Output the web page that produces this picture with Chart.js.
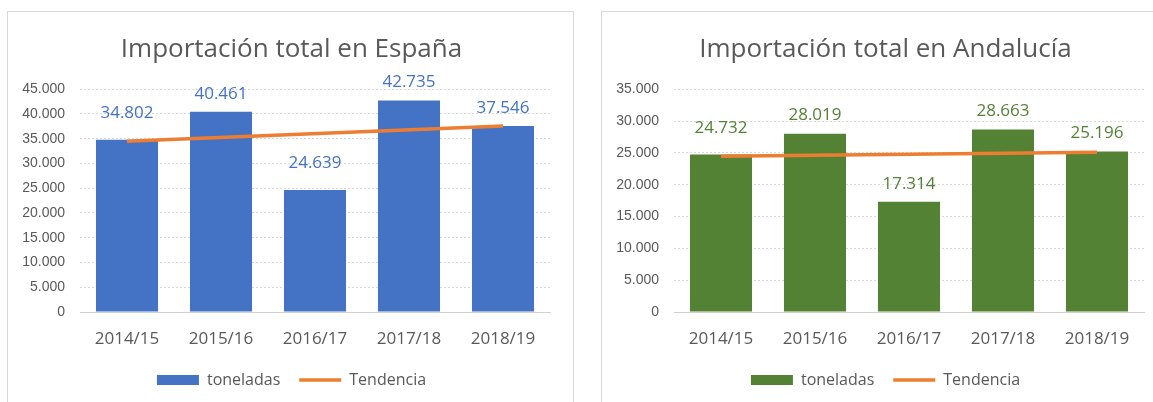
<!DOCTYPE html>
<html>
<head>
<meta charset="utf-8">
<script src="https://cdn.jsdelivr.net/npm/chart.js@4.4.1/dist/chart.umd.min.js"></script>
<style>
  html, body { margin: 0; padding: 0; background: #fff; overflow: hidden; width: 1153px; height: 402px; }
  .box { position: absolute; top: 11px; width: 565px; height: 400px; border: 1px solid #d9d9d9; }
  #box1 { left: 7px; }
  #box2 { left: 601px; }
  .box canvas { position: absolute; left: 0; top: 0; }
</style>
</head>
<body>
<div class="box" id="box1"><canvas id="espana" width="565" height="390"></canvas></div>
<div class="box" id="box2"><canvas id="andalucia" width="565" height="390"></canvas></div>

<script>
const categories = ["2014/15", "2015/16", "2016/17", "2017/18", "2018/19"];

const espanaValues = [34802, 40461, 24639, 42735, 37546];
const espanaTrend = [34480, null, null, null, 37590];
const espanaMax = 45000;

const andaluciaValues = [24732, 28019, 17314, 28663, 25196];
const andaluciaTrend = [24470, null, null, null, 25100];
const andaluciaMax = 35000;

const GREY = "#595959";
const ORANGE = "#ED7D31";

function fmt(v) {
  return String(v).replace(/\B(?=(\d{3})+(?!\d))/g, ".");
}

// value labels above the bars (Excel had some of them nudged up by hand)
const barLabels = {
  id: "barLabels",
  afterDatasetsDraw(chart, args, opts) {
    const ctx = chart.ctx;
    const meta = chart.getDatasetMeta(0);
    ctx.save();
    ctx.font = "17px 'Open Sans'";
    ctx.fillStyle = opts.color;
    ctx.textAlign = "center";
    ctx.textBaseline = "middle";
    meta.data.forEach((bar, i) => {
      const lift = opts.lift ? opts.lift[i] : 18;
      ctx.fillText(fmt(chart.data.datasets[0].data[i]), bar.x, bar.y - lift);
    });
    ctx.restore();
  }
};

function makeChart(canvasId, title, values, trend, color, max, lift) {
  const ctx = document.getElementById(canvasId);
  if (!ctx) return;

  new Chart(ctx, {
    type: "bar",
    data: {
      labels: categories,
      datasets: [{
        type: "bar",
        label: "toneladas",
        data: values,
        backgroundColor: color,
        barPercentage: 0.66,
        categoryPercentage: 1,
        pointStyle: "rect",
        order: 1
      }, {
        type: "line",
        label: "Tendencia",
        data: trend,
        spanGaps: true,
        borderColor: ORANGE,
        backgroundColor: ORANGE,
        borderWidth: 3.5,
        pointRadius: 0,
        pointStyle: "line",
        pointBorderColor: ORANGE,
        pointBorderWidth: 3.5,
        order: 0
      }]
    },
    options: {
      responsive: false,
      animation: false,
      layout: { padding: { top: 0, left: 2, right: 0, bottom: 4 } },
      scales: {
        x: {
          grid: { display: false, drawTicks: false },
          border: { display: true, color: "#d0d0d0", width: 1 },
          ticks: { color: GREY, font: { family: "'Open Sans'", size: 17 }, padding: 17 },
          afterFit(scale) { scale.height = 41; }
        },
        y: {
          min: 0,
          max: max,
          grid: { color: "#d9d9d9", drawTicks: false },
          border: { display: false, dash: [2, 2] },
          ticks: {
            stepSize: 5000,
            color: GREY,
            font: { family: "'Liberation Sans', Arial", size: 14 },
            padding: 15,
            callback: v => fmt(v)
          },
          afterFit(scale) { scale.width = 70; }
        },
        // empty axis on the right, only keeps the plot off the right edge
        spacer: {
          position: "right",
          grid: { display: false, drawTicks: false },
          border: { display: false },
          ticks: { display: false },
          afterFit(scale) { scale.width = 23; }
        }
      },
      plugins: {
        title: {
          display: true,
          text: title,
          color: GREY,
          font: { family: "'Open Sans'", size: 26, weight: "normal", lineHeight: 1.2 },
          padding: { top: 22, bottom: 24 }
        },
        legend: {
          display: true,
          position: "bottom",
          labels: {
            usePointStyle: true,
            pointStyleWidth: 42,
            boxHeight: 10,
            padding: 19,
            color: GREY,
            font: { family: "'Open Sans'", size: 16 },
            sort: (a, b) => a.datasetIndex - b.datasetIndex
          }
        },
        tooltip: { enabled: false },
        barLabels: { color: color, lift: lift }
      }
    },
    plugins: [barLabels]
  });
}

makeChart("espana", "Importación total en España", espanaValues, espanaTrend, "#4472C4", espanaMax, [27, 18, 27, 18, 18]);
makeChart("andalucia", "Importación total en Andalucía", andaluciaValues, andaluciaTrend, "#548235", andaluciaMax, [26, 18, 18, 18, 18]);
</script>
</body>
</html>
